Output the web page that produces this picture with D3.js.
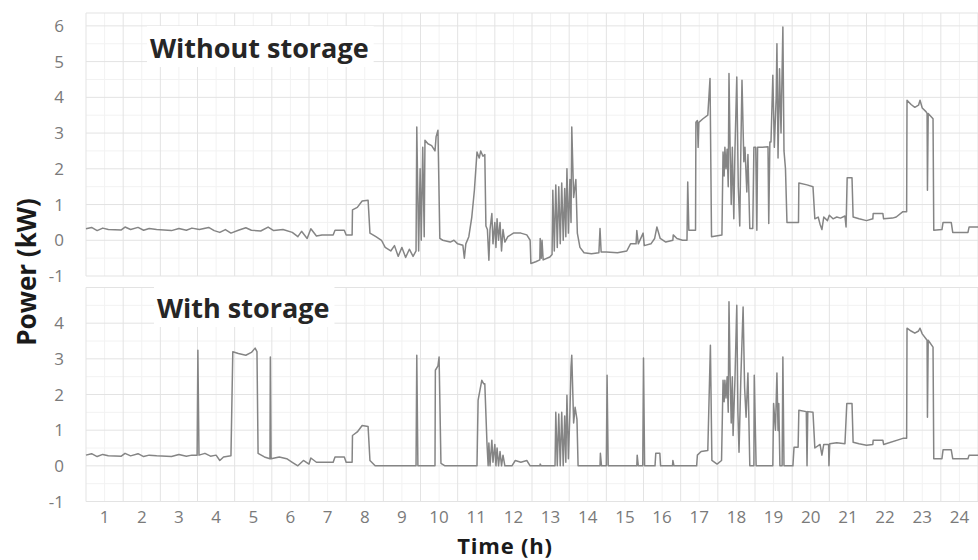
<!DOCTYPE html>
<html lang="en">
<head>
<meta charset="utf-8">
<title>Power with and without storage</title>
<script src="https://d3js.org/d3.v7.min.js"></script>
<style>
  body { margin: 0; background: #fff; }
  svg { display: block; font-family: 'Open Sans', sans-serif; }
  .tick-label { font-size: 17px; fill: #7a7a7a; }
  .panel-title { font-size: 27px; font-weight: bold; fill: #262626; }
  .axis-title { font-weight: bold; fill: #1a1a1a; }
</style>
</head>
<body>
<div id="chart"></div>
<script>
// hour labels on the x axis (category style, label in the middle of each hour)
const hourLabels = d3.range(1, 25);
const yTicksTop = [-1, 0, 1, 2, 3, 4, 5, 6];
const yTicksBottom = [-1, 0, 1, 2, 3, 4];

// [time in h, power in kW]
const withoutStorage = [
  [0,0.32],[0.15,0.36],[0.3,0.27],[0.45,0.34],[0.6,0.3],[0.95,0.29],[1.05,0.37],[1.2,0.3],
  [1.4,0.36],[1.55,0.28],[1.7,0.33],[1.9,0.3],[2.3,0.27],[2.5,0.33],[2.7,0.28],[2.85,0.34],
  [3.05,0.3],[3.3,0.36],[3.45,0.27],[3.6,0.22],[3.75,0.3],[3.9,0.2],[4.1,0.28],[4.3,0.35],
  [4.45,0.28],[4.7,0.26],[4.9,0.37],[5.05,0.27],[5.3,0.3],[5.55,0.22],[5.7,0.1],[5.8,0.25],
  [5.95,0.05],[6.05,0.32],[6.2,0.12],[6.35,0.15],[6.65,0.15],[6.7,0.28],[6.95,0.28],[7.0,0.15],
  [7.16,0.15],[7.17,0.85],[7.3,0.92],[7.43,1.1],[7.59,1.12],[7.64,0.2],[7.8,0.1],[7.95,0.0],
  [8.05,-0.2],[8.2,-0.3],[8.3,-0.15],[8.4,-0.45],[8.5,-0.2],[8.6,-0.48],[8.7,-0.25],[8.8,-0.45],
  [8.88,-0.3],[8.9,3.17],[8.95,-0.3],[8.99,2.0],[9.02,0.0],[9.06,2.6],[9.1,0.1],[9.12,2.8],
  [9.2,2.7],[9.3,2.65],[9.39,2.5],[9.42,2.9],[9.47,3.08],[9.52,0.05],[9.6,0.0],[9.8,-0.05],
  [9.9,0.0],[10.0,-0.1],[10.14,-0.14],[10.18,-0.5],[10.22,-0.1],[10.3,0.1],[10.38,0.65],[10.45,1.4],
  [10.52,2.47],[10.58,2.3],[10.62,2.5],[10.68,2.35],[10.73,2.4],[10.76,0.4],[10.8,0.3],[10.84,-0.56],
  [10.87,0.3],[10.92,0.75],[10.95,-0.1],[11.0,0.5],[11.03,-0.2],[11.06,0.6],[11.1,0.0],[11.14,0.5],
  [11.18,-0.3],[11.22,0.3],[11.27,-0.05],[11.35,0.1],[11.5,0.2],[11.7,0.2],[11.86,0.15],[11.95,0.0],
  [11.97,-0.65],[12.1,-0.6],[12.21,-0.55],[12.22,0.05],[12.25,-0.5],[12.27,0.0],[12.3,-0.55],[12.48,-0.47],
  [12.54,-0.4],[12.56,1.4],[12.6,-0.3],[12.64,1.55],[12.68,-0.2],[12.72,1.5],[12.76,-0.1],[12.8,1.6],
  [12.84,0.0],[12.88,1.45],[12.91,0.1],[12.94,2.0],[12.98,0.2],[13.02,1.7],[13.05,0.5],[13.07,3.17],
  [13.12,1.2],[13.18,1.7],[13.22,0.2],[13.29,-0.2],[13.4,-0.35],[13.6,-0.38],[13.8,-0.35],[13.83,0.33],
  [13.86,-0.33],[14.0,-0.33],[14.3,-0.35],[14.55,-0.3],[14.65,-0.1],[14.8,-0.1],[14.82,0.27],[14.86,-0.1],
  [14.99,0.2],[15.02,-0.15],[15.2,-0.1],[15.3,0.05],[15.36,0.37],[15.45,0.05],[15.6,-0.05],[15.79,0.0],
  [15.8,0.15],[15.9,0.05],[16.05,0.0],[16.17,0.0],[16.19,1.63],[16.22,0.28],[16.4,0.28],[16.41,3.3],
  [16.45,3.35],[16.47,2.6],[16.49,3.3],[16.6,3.4],[16.73,3.5],[16.79,4.53],[16.83,0.1],[17.11,0.15],
  [17.14,2.47],[17.17,1.8],[17.19,2.6],[17.22,2.0],[17.25,2.55],[17.28,1.5],[17.3,4.67],[17.33,2.6],
  [17.36,1.0],[17.39,2.6],[17.43,0.6],[17.46,2.5],[17.51,4.57],[17.55,1.5],[17.59,0.4],[17.62,2.6],
  [17.65,4.48],[17.7,2.2],[17.73,2.6],[17.78,1.35],[17.81,2.4],[17.86,0.33],[17.94,0.33],[17.97,2.6],
  [18.02,2.6],[18.05,0.28],[18.07,2.6],[18.2,2.6],[18.35,2.62],[18.37,0.47],[18.4,2.75],[18.43,2.75],
  [18.48,4.62],[18.52,2.6],[18.57,4.0],[18.59,5.5],[18.62,2.3],[18.66,4.8],[18.7,3.0],[18.75,5.97],
  [18.78,2.5],[18.82,2.0],[18.86,0.5],[19.17,0.5],[19.18,1.6],[19.4,1.55],[19.56,1.5],[19.61,0.6],
  [19.7,0.65],[19.75,0.45],[19.8,0.3],[19.85,0.65],[19.95,0.55],[20.0,0.7],[20.1,0.6],[20.2,0.65],
  [20.3,0.62],[20.42,0.68],[20.45,0.37],[20.48,1.75],[20.61,1.75],[20.64,0.65],[20.8,0.6],[21.0,0.55],
  [21.17,0.6],[21.18,0.75],[21.44,0.75],[21.46,0.6],[21.7,0.62],[21.8,0.65],[21.98,0.8],[22.08,0.8],
  [22.09,3.92],[22.2,3.8],[22.3,3.72],[22.4,3.78],[22.44,3.92],[22.5,3.7],[22.6,3.6],[22.63,3.55],
  [22.64,1.4],[22.66,3.55],[22.79,3.4],[22.81,0.28],[23.03,0.3],[23.06,0.5],[23.28,0.5],[23.32,0.22],
  [23.73,0.22],[23.76,0.37],[24,0.37]
];

const withStorage = [
  [0,0.3],[0.15,0.34],[0.3,0.26],[0.45,0.32],[0.6,0.28],[0.95,0.27],[1.05,0.35],[1.2,0.28],
  [1.4,0.34],[1.55,0.26],[1.7,0.3],[1.9,0.28],[2.3,0.26],[2.5,0.32],[2.7,0.27],[2.85,0.3],
  [2.99,0.3],[3.01,3.24],[3.04,0.3],[3.2,0.35],[3.35,0.27],[3.5,0.3],[3.6,0.15],[3.7,0.25],
  [3.9,0.28],[3.95,3.2],[4.1,3.15],[4.3,3.1],[4.45,3.18],[4.55,3.3],[4.6,3.2],[4.63,0.35],
  [4.8,0.25],[4.95,0.2],[4.96,3.05],[4.98,0.2],[5.2,0.25],[5.4,0.2],[5.55,0.1],[5.7,0.0],
  [5.85,0.15],[6.0,0.05],[6.05,0.22],[6.2,0.1],[6.65,0.1],[6.7,0.25],[6.95,0.25],[7.0,0.1],
  [7.16,0.1],[7.17,0.85],[7.3,0.95],[7.43,1.13],[7.59,1.1],[7.64,0.15],[7.78,0.0],[8.88,0.0],
  [8.9,3.1],[8.93,0.0],[9.39,0.0],[9.4,2.68],[9.47,2.8],[9.5,3.05],[9.55,0.07],[9.66,0.0],
  [10.52,0.0],[10.55,1.84],[10.65,2.4],[10.7,2.3],[10.73,2.3],[10.79,0.6],[10.82,0.0],[10.84,0.64],
  [10.87,0.0],[10.92,0.72],[10.95,0.1],[11.0,0.6],[11.03,0.0],[11.06,0.5],[11.1,0.0],[11.14,0.4],
  [11.18,0.0],[11.22,0.3],[11.27,0.0],[11.46,0.0],[11.55,0.15],[11.7,0.1],[11.86,0.15],[11.95,0.0],
  [12.21,0.0],[12.22,0.05],[12.25,0.0],[12.62,0.0],[12.64,1.5],[12.68,0.0],[12.72,1.45],[12.76,0.0],
  [12.8,1.5],[12.84,0.0],[12.88,1.4],[12.91,0.1],[12.94,1.98],[12.98,0.2],[13.02,1.5],[13.05,2.77],
  [13.07,3.1],[13.12,1.2],[13.16,1.64],[13.21,1.3],[13.24,0.0],[13.83,0.0],[13.84,0.35],[13.87,0.0],
  [14.0,0.0],[14.02,2.54],[14.05,0.0],[14.82,0.0],[14.83,0.3],[14.86,0.0],[14.98,0.0],[15.0,3.02],
  [15.03,0.0],[15.31,0.0],[15.33,0.35],[15.44,0.35],[15.46,0.0],[15.78,0.0],[15.79,0.15],[15.82,0.0],
  [16.43,0.0],[16.45,0.3],[16.55,0.4],[16.73,0.43],[16.8,3.38],[16.84,0.15],[16.98,0.05],[17.1,0.15],
  [17.14,2.4],[17.17,1.8],[17.19,2.4],[17.22,1.9],[17.25,2.5],[17.28,1.5],[17.3,4.6],[17.33,2.6],
  [17.36,1.2],[17.39,2.5],[17.41,0.85],[17.46,2.4],[17.51,4.5],[17.54,1.5],[17.57,0.38],[17.62,2.5],
  [17.68,4.45],[17.72,2.2],[17.76,1.36],[17.81,2.6],[17.86,0.0],[17.97,0.0],[17.98,2.54],[18.03,0.0],
  [18.48,0.0],[18.5,1.75],[18.55,1.0],[18.59,2.6],[18.62,0.99],[18.64,1.75],[18.67,0.0],[18.73,0.0],
  [18.75,3.05],[18.78,0.0],[19.02,0.0],[19.05,0.52],[19.16,0.52],[19.18,1.56],[19.38,1.52],[19.4,0.0],
  [19.42,1.52],[19.56,1.5],[19.61,0.5],[19.75,0.6],[19.8,0.3],[19.85,0.6],[19.98,0.6],[19.99,0.0],
  [20.01,0.62],[20.2,0.65],[20.42,0.62],[20.47,1.75],[20.61,1.75],[20.64,0.66],[20.8,0.62],[21.0,0.58],
  [21.17,0.6],[21.18,0.72],[21.44,0.72],[21.46,0.6],[21.98,0.77],[22.08,0.77],[22.09,3.86],[22.2,3.78],
  [22.3,3.72],[22.4,3.78],[22.44,3.86],[22.5,3.7],[22.63,3.52],[22.64,1.36],[22.66,3.52],[22.79,3.33],
  [22.81,0.2],[23.03,0.2],[23.06,0.45],[23.28,0.45],[23.32,0.2],[23.73,0.2],[23.76,0.3],[24,0.3]
];

const width = 978;
const height = 560;

const svg = d3.select("#chart").append("svg")
    .attr("width", width)
    .attr("height", height);

const x = d3.scaleLinear().domain([0, 24]).range([86, 978]);

// two stacked panels sharing the time axis
const panels = [
  { data: withoutStorage, ticks: yTicksTop, title: "Without storage",
    y: d3.scaleLinear().domain([-1, 6.36]).range([276, 13]), titleX: 150, titleY: 58 },
  { data: withStorage, ticks: yTicksBottom, title: "With storage",
    y: d3.scaleLinear().domain([-1, 5]).range([501.5, 287.5]), titleX: 157, titleY: 318 }
];

panels.forEach(p => {
  const g = svg.append("g");
  const [yMin, yMax] = p.y.domain();

  // minor grid (half hours / half kW)
  g.selectAll(".vminor")
    .data(d3.range(0.5, 24, 1))
    .join("line")
      .attr("x1", d => x(d)).attr("x2", d => x(d))
      .attr("y1", p.y(yMin)).attr("y2", p.y(yMax))
      .attr("stroke", "#f2f2f2");
  g.selectAll(".hminor")
    .data(d3.range(yMin + 0.5, yMax, 1))
    .join("line")
      .attr("x1", x(0)).attr("x2", x(24))
      .attr("y1", d => p.y(d)).attr("y2", d => p.y(d))
      .attr("stroke", "#f2f2f2");

  // major grid
  g.selectAll(".vmajor")
    .data(d3.range(0, 25))
    .join("line")
      .attr("x1", d => x(d)).attr("x2", d => x(d))
      .attr("y1", p.y(yMin)).attr("y2", p.y(yMax))
      .attr("stroke", "#e3e3e3");
  g.selectAll(".hmajor")
    .data(p.ticks.concat([yMax]))
    .join("line")
      .attr("x1", x(0)).attr("x2", x(24))
      .attr("y1", d => p.y(d)).attr("y2", d => p.y(d))
      .attr("stroke", "#e3e3e3");

  // y tick labels
  g.selectAll(".tick-label")
    .data(p.ticks)
    .join("text")
      .attr("class", "tick-label")
      .attr("x", 64)
      .attr("y", d => p.y(d))
      .attr("dy", "0.36em")
      .attr("text-anchor", "end")
      .text(d => d);

  // title with a white box behind it
  const t = g.append("text")
      .attr("class", "panel-title")
      .attr("x", p.titleX)
      .attr("y", p.titleY)
      .text(p.title);
  const bb = t.node().getBBox();
  g.insert("rect", "text.panel-title")
      .attr("x", bb.x - 3).attr("y", bb.y - 3)
      .attr("width", bb.width + 8).attr("height", bb.height + 4)
      .attr("fill", "#fff");

  const line = d3.line()
      .x(d => x(d[0]))
      .y(d => p.y(d[1]));

  g.append("path")
      .datum(p.data)
      .attr("fill", "none")
      .attr("stroke", "#858585")
      .attr("stroke-width", 1.5)
      .attr("stroke-linejoin", "round")
      .attr("d", line);
});

// hour labels, centred in each hour
svg.selectAll(".hour")
  .data(hourLabels)
  .join("text")
    .attr("class", "tick-label")
    .attr("x", d => x(d - 0.5))
    .attr("y", 523)
    .attr("text-anchor", "middle")
    .text(d => d);

svg.append("text")
    .attr("class", "axis-title")
    .attr("transform", "translate(36,272) rotate(-90)")
    .attr("text-anchor", "middle")
    .style("font-size", "26px")
    .text("Power (kW)");

svg.append("text")
    .attr("class", "axis-title")
    .attr("x", 505)
    .attr("y", 554)
    .attr("text-anchor", "middle")
    .style("font-size", "22px")
    .style("letter-spacing", "0.8px")
    .text("Time (h)");
</script>
</body>
</html>
